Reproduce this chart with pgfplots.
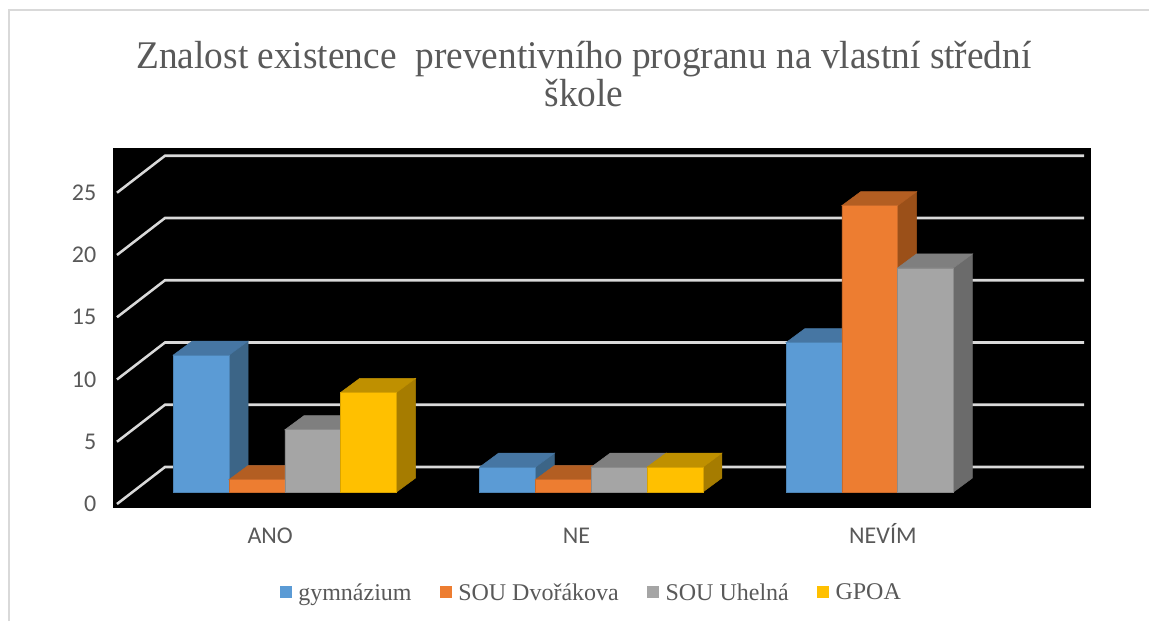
\documentclass[border=0pt]{standalone}
\usepackage{pgfplots}
\pgfplotsset{compat=1.18}
\usepackage{fontspec}
\setmainfont{Liberation Serif}
\newfontfamily\calfont{Carlito}
\newfontfamily\titlefont[FakeStretch=0.953]{Liberation Serif}
\definecolor{cB}{HTML}{5B9BD5}\definecolor{cBt}{HTML}{4676A3}\definecolor{cBs}{HTML}{3C6587}
\definecolor{cO}{HTML}{ED7D31}\definecolor{cOt}{HTML}{B35E22}\definecolor{cOs}{HTML}{9B5019}
\definecolor{cG}{HTML}{A5A5A5}\definecolor{cGt}{HTML}{7F7F7F}\definecolor{cGs}{HTML}{6B6B6B}
\definecolor{cY}{HTML}{FFC000}\definecolor{cYt}{HTML}{BF9000}\definecolor{cYs}{HTML}{A67C00}
\definecolor{txt}{HTML}{595959}
\definecolor{gridc}{HTML}{D9D9D9}
\pgfplotsset{
  face/.style={forget plot,fill=#1,draw=#1,line width=0.4pt,mark=none},
  front/.style={ybar,bar width=0.1822,fill=#1,draw=#1!85!black,line width=0.4pt,mark=none},
  gridl/.style={forget plot,draw=gridc,line width=1.9pt,mark=none},
}
\begin{document}
\begin{tikzpicture}[x=1pt,y=1pt]
\path[use as bounding box] (0,0) rectangle (861.75,465.75);
\draw[gridc,line width=1.5pt] (6.75,0) -- (6.75,458.25) -- (861.75,458.25);
\begin{axis}[
  at={(84.75pt,84.75pt)},anchor=south west,
  scale only axis,width=733.5pt,height=270pt,
  xmin=-0.5131,xmax=2.6793,ymin=-1.285,ymax=27.63,
  axis line style={draw=none},
  axis background/.style={fill=black},
  major tick length=0pt,
  xtick={0,1,2},xticklabels={ANO,NE,NEVÍM},
  ytick={-0.964,4.036,9.036,14.036,19.036,24.036},
  yticklabels={0,5,10,15,20,25},
  tick label style={font=\calfont\fontsize{18}{22}\selectfont,text=txt},
  xticklabel style={yshift=-10pt,text height=13pt,text depth=3pt},
  yticklabel style={xshift=-9pt},
  title={Znalost existence\ \ preventivního progranu na vlastní střední\\škole},
  title style={at={(axis description cs:0.4816,1)},anchor=south,align=center,
    font=\titlefont\fontsize{29.4}{28.5}\selectfont,text=txt,yshift=21pt},
  legend style={at={(axis description cs:0.166,-0.1945)},anchor=north west,draw=none,fill=none,
    font=\fontsize{18}{22}\selectfont,text=txt,
    legend columns=4,
    /tikz/every odd column/.append style={column sep=3pt},
    /tikz/every even column/.append style={column sep=19pt}},
  legend cell align=left,
  legend image code/.code={\path[#1,draw=none] (0pt,-4pt) rectangle (9pt,5pt);},
]
% gridlines
\addplot[gridl] coordinates {(-0.5001,-0.964)(-0.3434,2.008)(2.6565,2.008)};
\addplot[gridl] coordinates {(-0.5001,4.036)(-0.3434,7.008)(2.6565,7.008)};
\addplot[gridl] coordinates {(-0.5001,9.036)(-0.3434,12.008)(2.6565,12.008)};
\addplot[gridl] coordinates {(-0.5001,14.036)(-0.3434,17.008)(2.6565,17.008)};
\addplot[gridl] coordinates {(-0.5001,19.036)(-0.3434,22.008)(2.6565,22.008)};
\addplot[gridl] coordinates {(-0.5001,24.036)(-0.3434,27.008)(2.6565,27.008)};
% gymnazium
\addplot[face=cBs] coordinates {(-0.1341,0)(-0.0721,1.125)(-0.0721,12.125)(-0.1341,11)} --cycle;
\addplot[face=cBt] coordinates {(-0.3163,11)(-0.1341,11)(-0.0721,12.125)(-0.2543,12.125)} --cycle;
\addplot[face=cBs] coordinates {(0.8659,0)(0.9279,1.125)(0.9279,3.125)(0.8659,2)} --cycle;
\addplot[face=cBt] coordinates {(0.6837,2)(0.8659,2)(0.9279,3.125)(0.7457,3.125)} --cycle;
\addplot[face=cBs] coordinates {(1.8659,0)(1.9279,1.125)(1.9279,13.125)(1.8659,12)} --cycle;
\addplot[face=cBt] coordinates {(1.6837,12)(1.8659,12)(1.9279,13.125)(1.7457,13.125)} --cycle;
\addplot[front=cB,bar shift=-0.2252] coordinates {(0,11)(1,2)(2,12)};
\addlegendentry{gymnázium}
% SOU Dvorakova
\addplot[face=cOs] coordinates {(0.0481,0)(0.1101,1.125)(0.1101,2.125)(0.0481,1)} --cycle;
\addplot[face=cOt] coordinates {(-0.1341,1)(0.0481,1)(0.1101,2.125)(-0.0721,2.125)} --cycle;
\addplot[face=cOs] coordinates {(1.0481,0)(1.1101,1.125)(1.1101,2.125)(1.0481,1)} --cycle;
\addplot[face=cOt] coordinates {(0.8659,1)(1.0481,1)(1.1101,2.125)(0.9279,2.125)} --cycle;
\addplot[face=cOs] coordinates {(2.0481,0)(2.1101,1.125)(2.1101,24.125)(2.0481,23)} --cycle;
\addplot[face=cOt] coordinates {(1.8659,23)(2.0481,23)(2.1101,24.125)(1.9279,24.125)} --cycle;
\addplot[front=cO,bar shift=-0.0430] coordinates {(0,1)(1,1)(2,23)};
\addlegendentry{SOU Dvořákova}
% SOU Uhelna
\addplot[face=cGs] coordinates {(0.2303,0)(0.2923,1.125)(0.2923,6.125)(0.2303,5)} --cycle;
\addplot[face=cGt] coordinates {(0.0481,5)(0.2303,5)(0.2923,6.125)(0.1101,6.125)} --cycle;
\addplot[face=cGs] coordinates {(1.2303,0)(1.2923,1.125)(1.2923,3.125)(1.2303,2)} --cycle;
\addplot[face=cGt] coordinates {(1.0481,2)(1.2303,2)(1.2923,3.125)(1.1101,3.125)} --cycle;
\addplot[face=cGs] coordinates {(2.2303,0)(2.2923,1.125)(2.2923,19.125)(2.2303,18)} --cycle;
\addplot[face=cGt] coordinates {(2.0481,18)(2.2303,18)(2.2923,19.125)(2.1101,19.125)} --cycle;
\addplot[front=cG,bar shift=0.1392] coordinates {(0,5)(1,2)(2,18)};
\addlegendentry{SOU Uhelná}
% GPOA
\addplot[face=cYs] coordinates {(0.4125,0)(0.4745,1.125)(0.4745,9.125)(0.4125,8)} --cycle;
\addplot[face=cYt] coordinates {(0.2303,8)(0.4125,8)(0.4745,9.125)(0.2923,9.125)} --cycle;
\addplot[face=cYs] coordinates {(1.4125,0)(1.4745,1.125)(1.4745,3.125)(1.4125,2)} --cycle;
\addplot[face=cYt] coordinates {(1.2303,2)(1.4125,2)(1.4745,3.125)(1.2923,3.125)} --cycle;
\addplot[front=cY,bar shift=0.3214] coordinates {(0,8)(1,2)};
\addlegendentry{GPOA}
\end{axis}
\end{tikzpicture}
\end{document}
